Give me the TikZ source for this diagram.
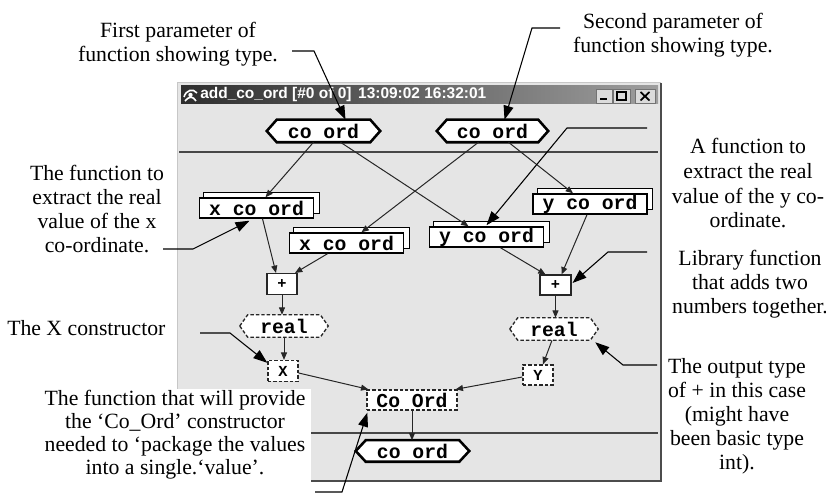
\documentclass[tikz,border=0pt]{standalone}
\usepackage{fontspec}
\setmainfont{Liberation Serif}
\newfontfamily\codefont{Liberation Mono}
\newfontfamily\winfont{Liberation Sans}
\usetikzlibrary{arrows.meta,calc}
\pgfdeclarelayer{winlayer}
\pgfdeclarelayer{shapelayer}
\pgfsetlayers{winlayer,shapelayer,main}
\newcommand\pxu{0.75pt}
\newcommand\hexdraw[3]{\draw[#3] ($(#1.west)+(-#2,0)$) -- (#1.north west) -- (#1.north east) -- ($(#1.east)+(#2,0)$) -- (#1.south east) -- (#1.south west) -- cycle;}
\newcommand\backbox[1]{\draw[fill=white, draw=black, line width=1pt] ($(#1.south west)+(5,-5)$) rectangle ($(#1.north east)+(5,-5)$);}
\tikzset{
  ann/.style={font=\fontsize{16.3}{18}\selectfont, align=center, inner sep=0pt, anchor=north},
  code/.style={font=\codefont\bfseries\fontsize{14.8}{16}\selectfont, inner sep=0pt},
  smallcode/.style={font=\codefont\bfseries\fontsize{11.5}{12}\selectfont, inner sep=0pt},
  hexin/.style={code, minimum height=22*\pxu},
  stackbox/.style={code, draw=black, fill=white, line width=1.1pt, minimum width=114*\pxu, minimum height=20*\pxu},
  plusbox/.style={smallcode, draw=black!85, fill=white, line width=0.8pt, minimum width=30*\pxu, minimum height=21*\pxu},
  dbox/.style={draw=black!85, fill=white, line width=1pt, dash pattern=on 2.6pt off 1.5pt, minimum height=21*\pxu},
  thickhex/.style={fill=white, draw=black, line width=1.9pt},
  dashhex/.style={fill=white, draw=black!85, line width=1pt, dash pattern=on 2.6pt off 1.5pt},
  edge/.style={draw=black!85, line width=0.75pt, -{Triangle[length=5.5pt,width=4.5pt]}},
  lead/.style={draw=black, line width=0.8pt, -{Triangle[length=10.5pt,width=7.5pt]}}
}
\begin{document}
\begin{tikzpicture}[x=0.75pt, y=-0.75pt]
\useasboundingbox (0,0) rectangle (826,499);

% ---------- graph nodes ----------
\node[hexin, minimum width=93*\pxu] (hexL) at (323.5,131) {co ord};
\node[hexin, minimum width=91*\pxu] (hexR) at (492.5,131) {co ord};
\node[stackbox] (xcoL) at (256.5,208) {x co ord};
\node[stackbox] (ycoR) at (590,204) {y co ord};
\node[stackbox] (xcoM) at (346.5,243) {x co ord};
\node[stackbox] (ycoM) at (486.5,237) {y co ord};
\node[plusbox] (plusL) at (282,284) {+};
\node[plusbox, minimum width=31*\pxu, minimum height=20*\pxu] (plusR) at (555.5,285) {+};
\node[hexin, minimum width=72*\pxu] (realL) at (284,326) {real};
\node[hexin, minimum width=72*\pxu] (realR) at (554,329) {real};
\node[dbox, smallcode, minimum width=30*\pxu] (Xb) at (283,371) {X};
\node[dbox, smallcode, minimum width=30*\pxu, minimum height=20*\pxu] (Yb) at (538,375) {Y};
\node[dbox, code, minimum width=90*\pxu, minimum height=20*\pxu] (CoOrd) at (412,400) {Co Ord};
\node[hexin, minimum width=93*\pxu, minimum height=21*\pxu] (hexB) at (412.5,451) {co ord};

% ---------- window ----------
\begin{pgfonlayer}{winlayer}
  \fill[black!10] (177,83) rectangle (661,481);
  \draw[black!22, line width=0.75pt] (177,481) -- (177,83) -- (661,83);
  \draw[black!70, line width=1.5pt] (661,83) -- (661,481) -- (177,481);
  \shade[left color=black!82, middle color=black!72, right color=black!38] (181,86) rectangle (658,104);
  \draw[white, line width=1.2pt] (184,97) .. controls (186,90) and (193,88) .. (197,93);
  \draw[white, line width=1.2pt] (185,101) .. controls (189,96) and (193,96) .. (196,101);
  \fill[white] (190.5,95) circle (2.2);
  \draw[fill=black!14, draw=black!55, line width=0.6pt] (596,89) rectangle (612,103);
  \draw[fill=black!14, draw=black!55, line width=0.6pt] (613,89) rectangle (630,103);
  \draw[fill=black!14, draw=black!55, line width=0.6pt] (635,89) rectangle (655,103);
  \fill[black] (600,98.5) rectangle (607,100.5);
  \draw[black, line width=0.8pt] (617,92) rectangle (626,100);
  \draw[black, line width=1.4pt] (617,92.3) -- (626,92.3);
  \draw[black, line width=1.3pt] (640.5,92) -- (649.5,100.5) (649.5,92) -- (640.5,100.5);
  \draw[black!72, line width=1.2pt] (179,152) -- (658,152);
  \fill[white] (175,389) rectangle (311,484);
  \draw[black!72, line width=1.2pt] (311,433) -- (658,433);
\end{pgfonlayer}
\node[anchor=west, text=white, font=\winfont\bfseries\fontsize{11.6}{12}\selectfont, inner sep=0pt] (title) at (200,95) {add\_co\_ord [\#0 of 0]\hspace{5pt}13:09:02 16:32:01};

% ---------- node outlines ----------
\begin{pgfonlayer}{shapelayer}
  \hexdraw{hexL}{10}{thickhex}
  \hexdraw{hexR}{10}{thickhex}
  \hexdraw{hexB}{10}{thickhex}
  \hexdraw{realL}{8}{dashhex}
  \hexdraw{realR}{8}{dashhex}
  \backbox{xcoL}
  \backbox{ycoR}
  \backbox{xcoM}
  \backbox{ycoM}
\end{pgfonlayer}

% ---------- graph edges ----------
\draw[edge] ($(hexL.south)+(-10,0)$) -- ($(xcoL.north)+(9,0)$);
\draw[edge] ($(hexL.south)+(17,0)$) -- ($(ycoM.north)+(-18,0)$);
\draw[edge] ($(hexR.south)+(-14,0)$) -- ($(xcoM.north)+(15,0)$);
\draw[edge] ($(hexR.south)+(16,0)$) -- ($(ycoR.north)+(-17,0)$);
\draw[edge] ($(xcoL.south)+(6,0)$) -- ($(plusL.north)+(-6,0)$);
\draw[edge] ($(xcoM.south)+(-19,0)$) -- ($(plusL.north)+(13,0)$);
\draw[edge] ($(ycoM.south)+(14,0)$) -- ($(plusR.north)+(-10,0)$);
\draw[edge] ($(ycoR.south)+(-3,0)$) -- ($(plusR.north)+(6,0)$);
\draw[edge] (plusL.south) -- (plusL.south |- realL.north);
\draw[edge] (plusR.south) -- (plusR.south |- realR.north);
\draw[edge] (realL.south) -- (realL.south |- Xb.north);
\draw[edge] ($(realR.south)+(-2,0)$) -- ($(Yb.north)+(5,0)$);
\draw[edge] ($(Xb.east)+(0,2)$) -- ($(CoOrd.north west)+(2,0)$);
\draw[edge] ($(Yb.west)+(0,2)$) -- ($(CoOrd.north east)+(-2,0)$);
\draw[edge] (CoOrd.south) -- (CoOrd.south |- hexB.north);

% ---------- annotations ----------
\node[ann] (t1) at (178,22) {First parameter of\\function showing type.};
\node[ann] (t2) at (673,13) {Second parameter of\\function showing type.};
\node[ann] (t3) at (97,165) {The function to\\extract the real\\value of the x\\co-ordinate.};
\node[ann, anchor=north west] (t4) at (7,320) {The X constructor};
\node[ann, font=\fontsize{16.3}{17.2}\selectfont] (t5) at (175,390) {The function that will provide\\the ‘Co\_Ord’ constructor\\needed to ‘package the values\\into a single.‘value’.};
\node[ann, font=\fontsize{16.3}{18.6}\selectfont] (t6) at (748,138) {A function to\\extract the real\\value of the y co-\\ordinate.};
\node[ann] (t7) at (750,250) {Library function\\that adds two\\numbers together.};
\node[ann] (t8) at (737,358) {The output type\\of + in this case\\(might have\\been basic type\\int).};

% ---------- leaders ----------
\coordinate (l1s) at (292,51); \coordinate (l1c) at (314,51);
\draw[lead] (l1s) -- (l1c) -- ($(hexL.north)+(22,0)$);
\coordinate (l2s) at (560,28); \coordinate (l2c) at (532,28);
\draw[lead] (l2s) -- (l2c) -- ($(hexR.north)+(12,0)$);
\coordinate (l3s) at (163,249); \coordinate (l3c) at (193,249);
\draw[lead] (l3s) -- (l3c) -- ($(xcoL.south)+(-7,2)$);
\coordinate (l4s) at (647,252); \coordinate (l4c) at (608,252);
\draw[lead] (l4s) -- (l4c) -- ($(plusR.east)+(1,-2)$);
\coordinate (l5s) at (200,333); \coordinate (l5c) at (230,333);
\draw[lead] (l5s) -- (l5c) -- ($(Xb.north west)+(0,3)$);
\coordinate (l6s) at (315,492); \coordinate (l6c) at (342,492);
\draw[lead] (l6s) -- (l6c) -- ($(CoOrd.south west)+(1,2)$);
\coordinate (l7s) at (647,128); \coordinate (l7c) at (567,128);
\draw[lead] (l7s) -- (l7c) -- ($(ycoM.north)+(0,-1)$);
\coordinate (l8s) at (657,365); \coordinate (l8c) at (623,365);
\draw[lead] (l8s) -- (l8c) -- ($(realR.south east)+(5,2)$);
\end{tikzpicture}
\end{document}
